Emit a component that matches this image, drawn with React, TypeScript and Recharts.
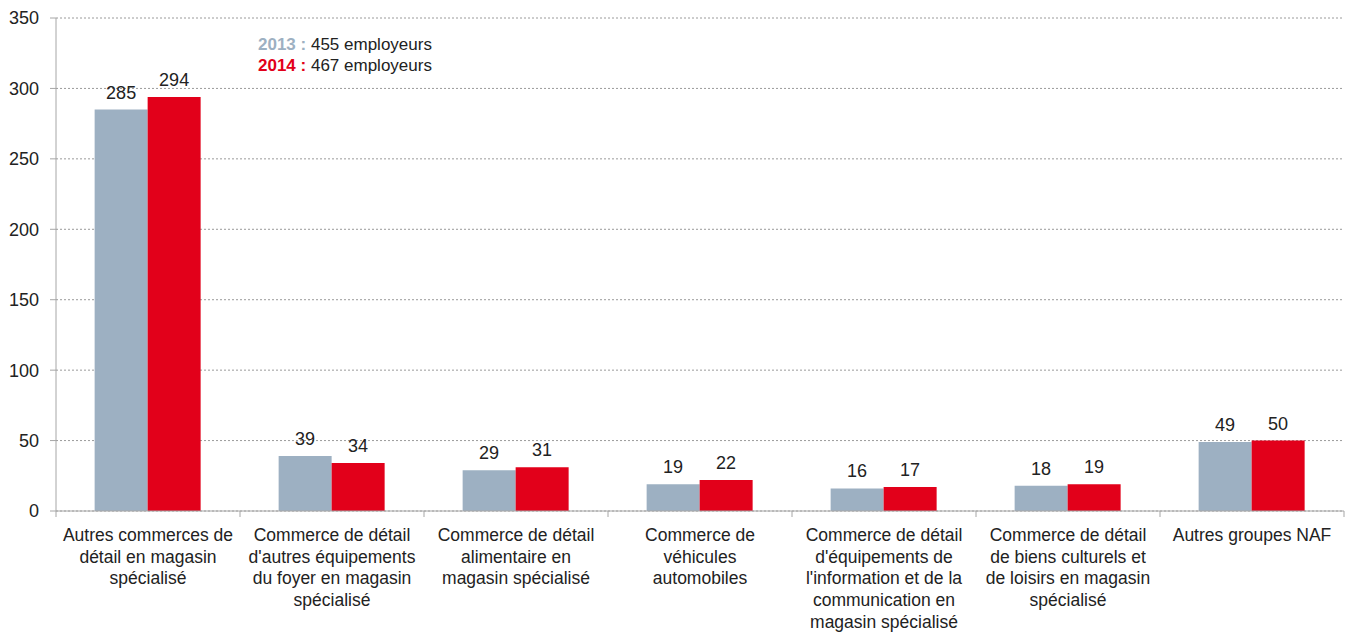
import React from 'react';
import { BarChart, Bar, XAxis, YAxis, CartesianGrid, LabelList } from 'recharts';

const categories: string[] = [
  "Autres commerces de\ndétail en magasin\nspécialisé",
  "Commerce de détail\nd'autres équipements\ndu foyer en magasin\nspécialisé",
  "Commerce de détail\nalimentaire en\nmagasin spécialisé",
  "Commerce de\nvéhicules\nautomobiles",
  "Commerce de détail\nd'équipements de\nl'information et de la\ncommunication en\nmagasin spécialisé",
  "Commerce de détail\nde biens culturels et\nde loisirs en magasin\nspécialisé",
  "Autres groupes NAF",
];
const values2013: number[] = [285, 39, 29, 19, 16, 18, 49];
const values2014: number[] = [294, 34, 31, 22, 17, 19, 50];
const yTicks: number[] = [0, 50, 100, 150, 200, 250, 300, 350];
const seriesNames: string[] = ["2013", "2014"];
const seriesTotals: string[] = ["455 employeurs", "467 employeurs"];

const COLORS = ["#9DB0C2", "#E2001A"];
const FONT = '"Liberation Sans", Arial, Helvetica, sans-serif';
const TEXT = "#222222";
const AXIS = "#A6A6A6";

const data = categories.map((c, i) => ({
  name: c,
  v2013: values2013[i],
  v2014: values2014[i],
}));

const WIDTH = 1350;
const HEIGHT = 632;
const MARGIN = { top: 18, right: 6, left: 0, bottom: 0 };
const Y_WIDTH = 56;
const BAND = (WIDTH - MARGIN.left - MARGIN.right - Y_WIDTH) / categories.length;

const XTick = (props: any) => {
  const { x, y, payload, index } = props;
  const lines = String(payload.value).split("\n");
  const half = BAND / 2;
  const last = index === categories.length - 1;
  return (
    <g>
      <line x1={x - half} x2={x - half} y1={y} y2={y + 6} stroke={AXIS} />
      {last && <line x1={x + half} x2={x + half} y1={y} y2={y + 6} stroke={AXIS} />}
      <text x={x} y={y} textAnchor="middle" fontSize={17.5} fill={TEXT} fontFamily={FONT}>
        {lines.map((l, i) => (
          <tspan key={i} x={x} dy={i === 0 ? 30 : 21.7}>
            {l}
          </tspan>
        ))}
      </text>
    </g>
  );
};

export default function App() {
  return (
    <div style={{ position: 'absolute', left: 0, top: 0, width: WIDTH, height: HEIGHT, fontFamily: FONT }}>
      <BarChart
        width={WIDTH}
        height={HEIGHT}
        data={data}
        margin={MARGIN}
        barCategoryGap="21%"
        barGap={0}
      >
        <CartesianGrid vertical={false} stroke="#9A9A9A" strokeDasharray="2 2" />
        <XAxis
          dataKey="name"
          interval={0}
          height={HEIGHT - 511}
          tickSize={0}
          tickMargin={0}
          tickLine={false}
          axisLine={{ stroke: AXIS }}
          tick={<XTick />}
        />
        <YAxis
          width={Y_WIDTH}
          domain={[0, 350]}
          ticks={yTicks}
          interval={0}
          tickSize={6}
          tickMargin={11}
          axisLine={{ stroke: AXIS }}
          tickLine={{ stroke: AXIS }}
          tick={{ fontSize: 18, fill: TEXT, fontFamily: FONT }}
        />
        <Bar dataKey="v2013" name={seriesNames[0]} fill={COLORS[0]} isAnimationActive={false}>
          <LabelList dataKey="v2013" position="top" offset={11} fontSize={18} fill={TEXT} fontFamily={FONT} />
        </Bar>
        <Bar dataKey="v2014" name={seriesNames[1]} fill={COLORS[1]} isAnimationActive={false}>
          <LabelList dataKey="v2014" position="top" offset={11} fontSize={18} fill={TEXT} fontFamily={FONT} />
        </Bar>
      </BarChart>
      <div style={{ position: 'absolute', left: 258, top: 34, fontSize: 17, lineHeight: '21px', color: TEXT }}>
        {seriesNames.map((s, i) => (
          <div key={s} style={{ whiteSpace: 'nowrap' }}>
            <span style={{ color: COLORS[i], fontWeight: 'bold' }}>{s} :</span> {seriesTotals[i]}
          </div>
        ))}
      </div>
    </div>
  );
}
